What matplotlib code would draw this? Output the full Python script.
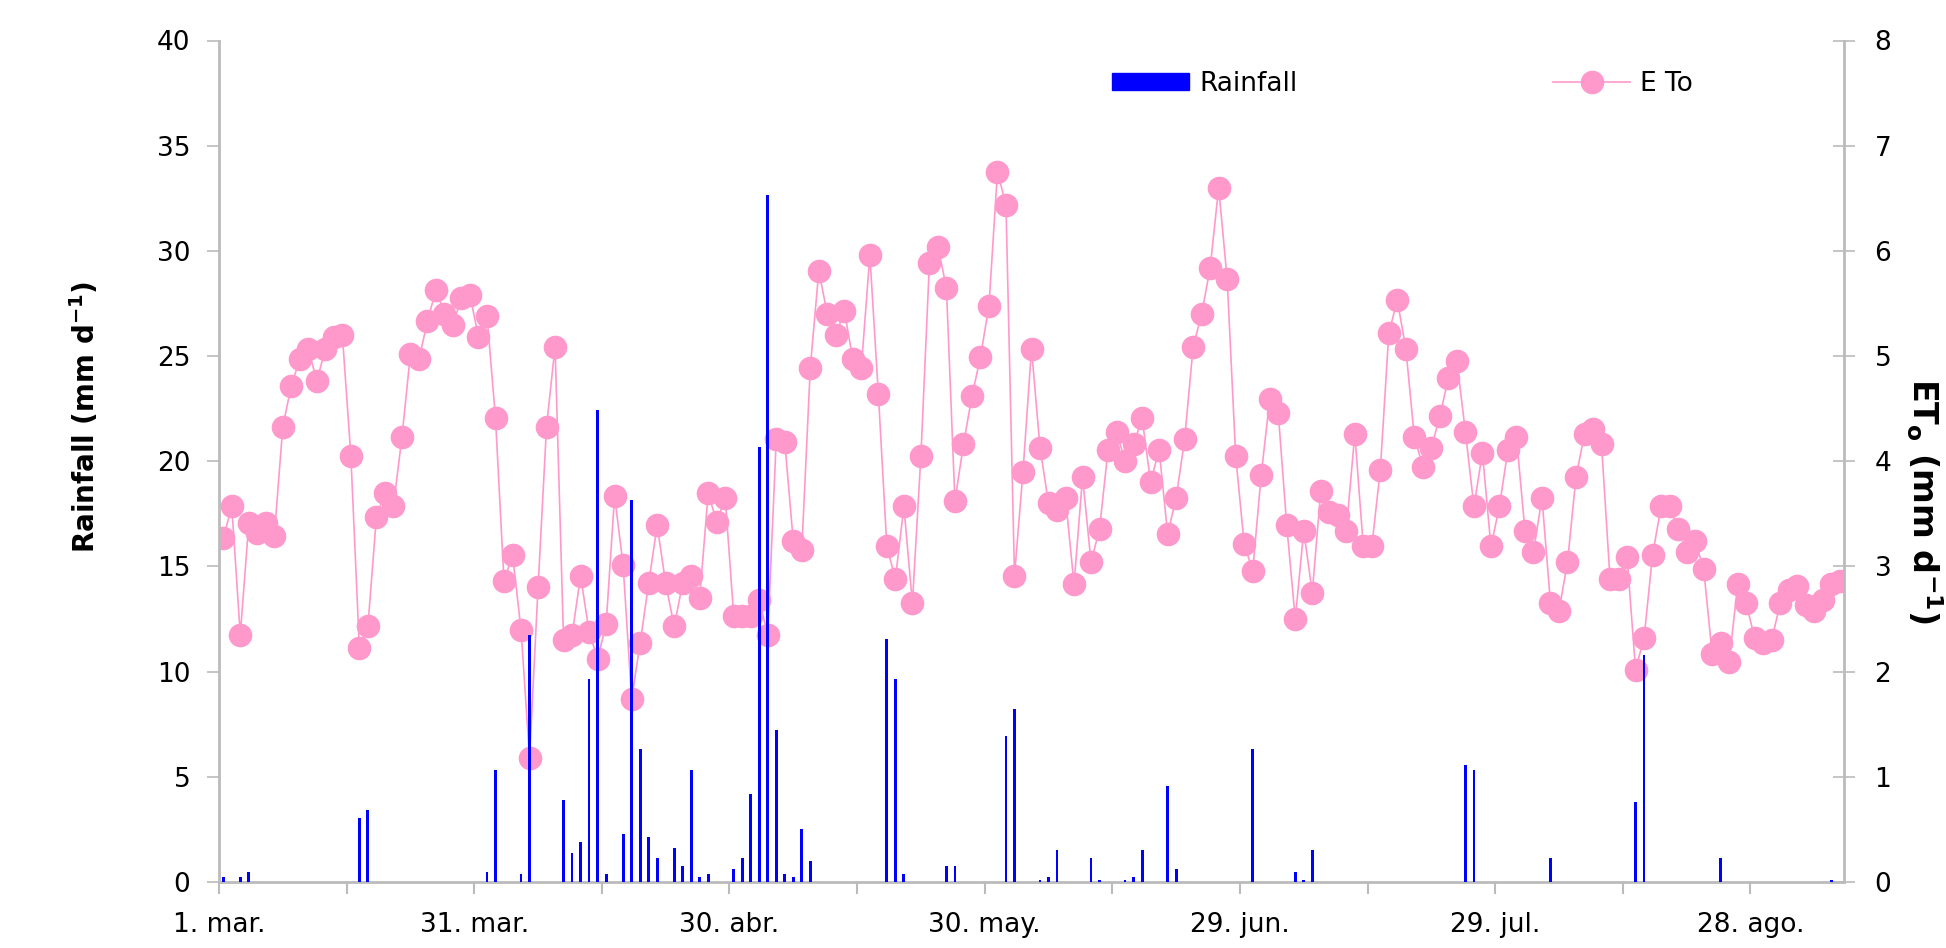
import matplotlib
matplotlib.use("Agg")
import matplotlib.pyplot as plt
from matplotlib.patches import Patch
from matplotlib.lines import Line2D

# ---- data (day index 0 = 1 March) ----
eto = [3.27, 3.57, 2.35, 3.41, 3.32, 3.41, 3.29, 4.33, 4.72, 4.97,
       5.07, 4.76, 5.07, 5.18, 5.20, 4.05, 2.22, 2.43, 3.47, 3.70,
       3.57, 4.23, 5.02, 4.97, 5.33, 5.63, 5.40, 5.30, 5.55, 5.58,
       5.18, 5.38, 4.41, 2.86, 3.11, 2.40, 1.18, 2.80, 4.33, 5.09,
       2.30, 2.35, 2.91, 2.38, 2.12, 2.45, 3.67, 3.01, 1.74, 2.27,
       2.84, 3.39, 2.84, 2.43, 2.84, 2.91, 2.70, 3.70, 3.42, 3.65,
       2.53, 2.53, 2.53, 2.68, 2.35, 4.21, 4.18, 3.24, 3.16, 4.89,
       5.81, 5.40, 5.20, 5.43, 4.97, 4.89, 5.96, 4.64, 3.19, 2.88,
       3.57, 2.65, 4.05, 5.88, 6.04, 5.65, 3.62, 4.16, 4.62, 4.99,
       5.48, 6.75, 6.44, 2.91, 3.90, 5.07, 4.13, 3.60, 3.54, 3.65,
       2.83, 3.85, 3.04, 3.36, 4.11, 4.28, 4.00, 4.16, 4.41, 3.80,
       4.11, 3.31, 3.65, 4.21, 5.09, 5.40, 5.84, 6.60, 5.73, 4.05,
       3.21, 2.96, 3.87, 4.59, 4.46, 3.39, 2.50, 3.34, 2.75, 3.72,
       3.52, 3.49, 3.34, 4.26, 3.19, 3.19, 3.92, 5.22, 5.53, 5.07,
       4.23, 3.95, 4.13, 4.43, 4.79, 4.95, 4.28, 3.57, 4.08, 3.19,
       3.57, 4.11, 4.23, 3.34, 3.14, 3.65, 2.65, 2.58, 3.04, 3.85,
       4.26, 4.31, 4.16, 2.88, 2.88, 3.09, 2.02, 2.32, 3.11, 3.57,
       3.57, 3.36, 3.14, 3.24, 2.98, 2.17, 2.27, 2.09, 2.83, 2.65,
       2.32, 2.27, 2.30, 2.65, 2.78, 2.81, 2.63, 2.58, 2.68, 2.83,
       2.86]
eto_days = list(range(len(eto)))

rain_days = [0, 2, 3, 16, 17, 31, 32, 35, 36, 40, 41, 42, 43, 44, 45, 47,
             48, 49, 50, 51, 53, 54, 55, 56, 57, 60, 61, 62, 63, 64, 65, 66,
             67, 68, 69, 78, 79, 80, 85, 86, 92, 93, 96, 97, 98, 102, 103,
             106, 107, 108, 111, 112, 121, 126, 127, 128, 146, 147, 156,
             166, 167, 176, 189]
rain_mm = [0.23, 0.23, 0.48, 3.03, 3.41, 0.48, 5.33, 0.36, 11.74, 3.91,
           1.37, 1.89, 9.65, 22.44, 0.36, 2.28, 18.16, 6.33, 2.14, 1.14,
           1.62, 0.75, 5.33, 0.23, 0.36, 0.61, 1.14, 4.19, 20.69, 32.64,
           7.21, 0.36, 0.23, 2.53, 1.00, 11.56, 9.65, 0.36, 0.75, 0.75,
           6.94, 8.22, 0.09, 0.23, 1.52, 1.14, 0.09, 0.09, 0.23, 1.52,
           4.55, 0.61, 6.33, 0.48, 0.09, 1.52, 5.55, 5.33, 1.14, 3.80,
           10.79, 1.14, 0.09]

tick_days = [0, 30, 60, 90, 120, 150, 180]
tick_labels = ["1. mar.", "31. mar.", "30. abr.", "30. may.", "29. jun.",
               "29. jul.", "28. ago."]

# ---- styling ----
plt.rcParams['font.family'] = ['DejaVu Sans']
plt.rcParams['mathtext.fontset'] = 'dejavusans'
GRAY = '#BBBBBB'
PINK = '#FF99CC'
BLUE = '#0000FF'

fig = plt.figure(figsize=(19.46, 9.48), dpi=100)
ax = fig.add_axes([219/1946, 1-882/948, (1844-219)/1946, (882-40.5)/948])
ax2 = ax.twinx()

ax2.plot(eto_days, eto, color=PINK, lw=1.2, marker='o', ms=16,
         markerfacecolor=PINK, markeredgecolor=PINK, zorder=2)
ax.bar(rain_days, rain_mm, width=0.33, color=BLUE, zorder=3)

ax.set_zorder(ax2.get_zorder() + 1)
ax.patch.set_visible(False)

ax.set_xlim(-0.5, 190.5)
ax.set_ylim(0, 40)
ax2.set_ylim(0, 8)
ax.set_yticks(range(0, 41, 5))
ax2.set_yticks(range(0, 9))

xt = list(range(0, 181, 15))
ax.set_xticks([d - 0.5 for d in xt])
ax.set_xticklabels([tick_labels[tick_days.index(d)] if d in tick_days else ""
                    for d in xt])

for a in (ax, ax2):
    for s in a.spines.values():
        s.set_visible(False)
ax.spines['left'].set_visible(True)
ax.spines['bottom'].set_visible(True)
ax2.spines['right'].set_visible(True)
for s in (ax.spines['left'], ax.spines['bottom'], ax2.spines['right']):
    s.set_color(GRAY)
    s.set_linewidth(2)

ax.tick_params(axis='y', direction='out', length=8.6, width=1.2, color=GRAY,
               labelsize=19, pad=12)
ax.tick_params(axis='x', direction='out', length=8.6, width=1.5, color=GRAY,
               labelsize=19, pad=13)
ax2.tick_params(axis='y', direction='inout', length=16, width=1.2, color=GRAY,
                labelsize=19, pad=14)

fig.text(85/1946, 1-417/948, r"Rainfall (mm d$^{\mathbf{-1}}$)",
         rotation=90, ha='center', va='center', fontsize=20,
         fontweight='bold')
fig.text(1924/1946, 1-501/948, r"ET$_{\mathbf{o}}$ (mm d$^{\mathbf{-1}}$)",
         rotation=270, ha='center', va='center', fontsize=24,
         fontweight='bold')

handles = [Patch(facecolor=BLUE, edgecolor=BLUE),
           Line2D([0], [0], color=PINK, lw=1.2, marker='o', ms=16,
                  markerfacecolor=PINK, markeredgecolor=PINK)]
leg = fig.legend(handles, ["Rainfall", "E To"], ncol=2, frameon=False,
                 loc='center left', bbox_to_anchor=(1112/1946, 1-84/948),
                 fontsize=19, handlelength=2.92, handleheight=0.6,
                 handletextpad=0.38, columnspacing=9.7, borderpad=0,
                 borderaxespad=0)

fig.savefig("out.png", dpi=100)
